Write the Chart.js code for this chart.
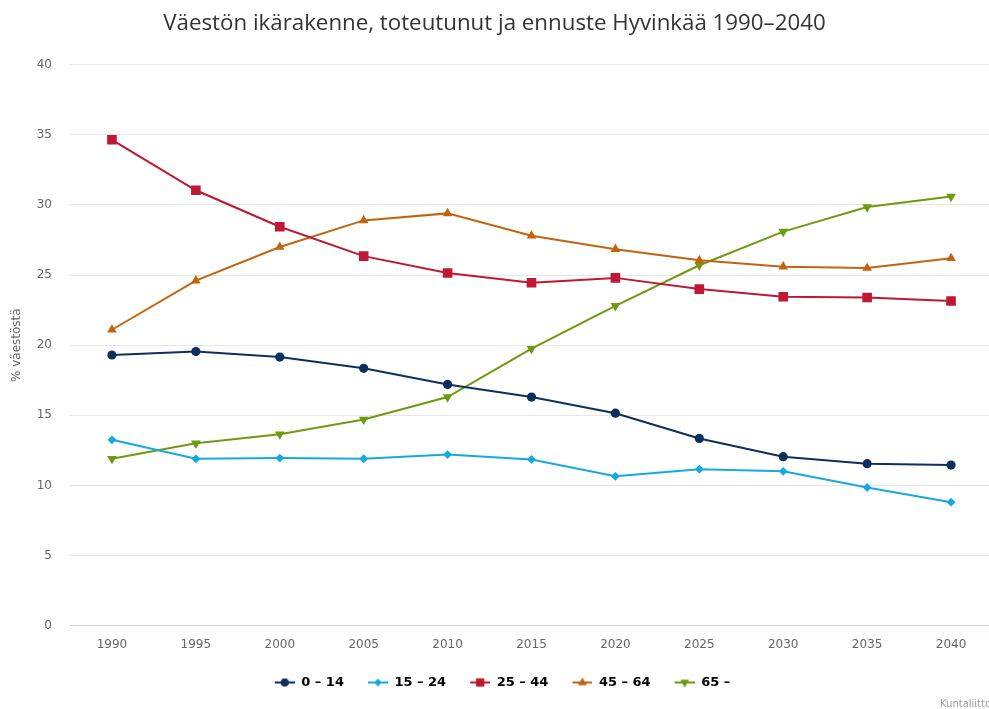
<!DOCTYPE html>
<html>
<head>
<meta charset="utf-8">
<script src="https://cdn.jsdelivr.net/npm/chart.js@4"></script>
<style>
  html, body { margin: 0; padding: 0; background: #fff; }
  #wrap { position: relative; width: 989px; height: 709px; }
</style>
</head>
<body>
<div id="wrap"><canvas id="chart" width="989" height="709"></canvas></div>
<script>
const YEARS = ["1990", "1995", "2000", "2005", "2010", "2015", "2020", "2025", "2030", "2035", "2040"];
const AGE_0_14 = [19.3, 19.55, 19.15, 18.35, 17.2, 16.3, 15.15, 13.35, 12.05, 11.55, 11.45];
const AGE_15_24 = [13.25, 11.9, 11.95, 11.9, 12.2, 11.85, 10.65, 11.15, 11.0, 9.85, 8.8];
const AGE_25_44 = [34.65, 31.05, 28.45, 26.35, 25.15, 24.45, 24.8, 24.0, 23.45, 23.4, 23.15];
const AGE_45_64 = [21.1, 24.6, 27.0, 28.9, 29.4, 27.8, 26.85, 26.05, 25.6, 25.5, 26.2];
const AGE_65 = [11.9, 13.0, 13.65, 14.7, 16.3, 19.75, 22.8, 25.7, 28.1, 29.85, 30.6];
const SERIES_LABELS = ["0 – 14", "15 – 24", "25 – 44", "45 – 64", "65 –"];
const COLORS = ["#0d2f5e", "#16a9df", "#c01733", "#c4630d", "#6d9a0f"];
const MARKERS = ["circle", "rectRot", "rect", "triangle", "triangle"];
const ROTATIONS = [0, 0, 0, 0, 180];
const RADII = [4.6, 4.4, 6.8, 5.6, 5.6];

const FONT = "'DejaVu Sans', Verdana, sans-serif";

// legend symbol: short line with the marker on it, blank space on the left acts as item gap
function legendIcon(i) {
  const c = document.createElement("canvas");
  c.width = 36; c.height = 14;
  const ctx = c.getContext("2d");
  ctx.strokeStyle = COLORS[i];
  ctx.lineWidth = 2;
  ctx.beginPath(); ctx.moveTo(16, 7); ctx.lineTo(36, 7); ctx.stroke();
  ctx.fillStyle = COLORS[i];
  Chart.helpers.drawPoint(ctx, {
    pointStyle: MARKERS[i], rotation: ROTATIONS[i], radius: RADII[i] * 0.85, borderWidth: 0
  }, 26, 7);
  ctx.fill();
  return c;
}

const creditPlugin = {
  id: "credit",
  afterDraw(chart) {
    const ctx = chart.ctx;
    ctx.save();
    ctx.font = "10px " + FONT;
    ctx.fillStyle = "#999";
    ctx.textBaseline = "middle";
    ctx.fillText("Kuntaliitto", 940, 704);
    ctx.restore();
  }
};

// plot area of the original runs a little past the right edge of the picture
const widenPlugin = {
  id: "widen",
  afterLayout(chart) {
    const right = 993;
    const x = chart.scales.x;
    x.right = right;
    x.width = right - x.left;
    x.configure();
    x._labelItems = null;
    x._gridLineItems = null;
    chart.chartArea.right = right;
    chart.chartArea.width = right - chart.chartArea.left;
  }
};

const values = [AGE_0_14, AGE_15_24, AGE_25_44, AGE_45_64, AGE_65];

new Chart(document.getElementById("chart"), {
  type: "line",
  data: {
    labels: YEARS,
    datasets: values.map((data, i) => ({
      label: SERIES_LABELS[i],
      data,
      borderColor: COLORS[i],
      backgroundColor: COLORS[i],
      borderWidth: 2,
      tension: 0,
      pointStyle: MARKERS[i],
      pointRotation: ROTATIONS[i],
      pointRadius: RADII[i],
      pointBorderWidth: 0,
      pointHoverRadius: RADII[i] + 1
    }))
  },
  options: {
    responsive: false,
    animation: false,
    layout: { padding: { top: 0, right: 0, bottom: 10, left: 0 } },
    plugins: {
      title: {
        display: true,
        text: "Väestön ikärakenne, toteutunut ja ennuste Hyvinkää 1990–2040",
        color: "#333",
        font: { family: "'Open Sans', sans-serif", size: 22.3, weight: "normal" },
        padding: { top: 10, bottom: 28 }
      },
      legend: {
        position: "bottom",
        labels: {
          usePointStyle: true,
          pointStyleWidth: 36,
          color: "#333",
          padding: 8,
          font: { family: FONT, size: 13, weight: "bold" },
          generateLabels: chart => chart.data.datasets.map((ds, i) => ({
            text: ds.label,
            pointStyle: legendIcon(i),
            fillStyle: COLORS[i],
            strokeStyle: COLORS[i],
            lineWidth: 0,
            datasetIndex: i,
            hidden: !chart.isDatasetVisible(i)
          }))
        }
      },
      tooltip: { enabled: true }
    },
    scales: {
      x: {
        offset: true,
        grid: { display: false, drawTicks: true, tickLength: 12, tickColor: "rgba(0,0,0,0)" },
        border: { color: "#ccd6eb", width: 1 },
        ticks: { color: "#666", font: { family: FONT, size: 12 }, padding: 0 },
        afterFit: scale => { scale.height += 16; }
      },
      y: {
        min: 0,
        max: 40,
        ticks: { stepSize: 5, color: "#666", font: { family: FONT, size: 12 }, padding: 18 },
        grid: { color: "#e6e6e6", drawTicks: false },
        border: { display: false },
        title: {
          display: true,
          text: "% väestöstä",
          color: "#666",
          font: { family: FONT, size: 12 },
          padding: { top: 10, bottom: 0 }
        },
        afterFit: scale => { scale.width = 70; }
      }
    }
  },
  plugins: [creditPlugin, widenPlugin]
});
</script>
</body>
</html>
